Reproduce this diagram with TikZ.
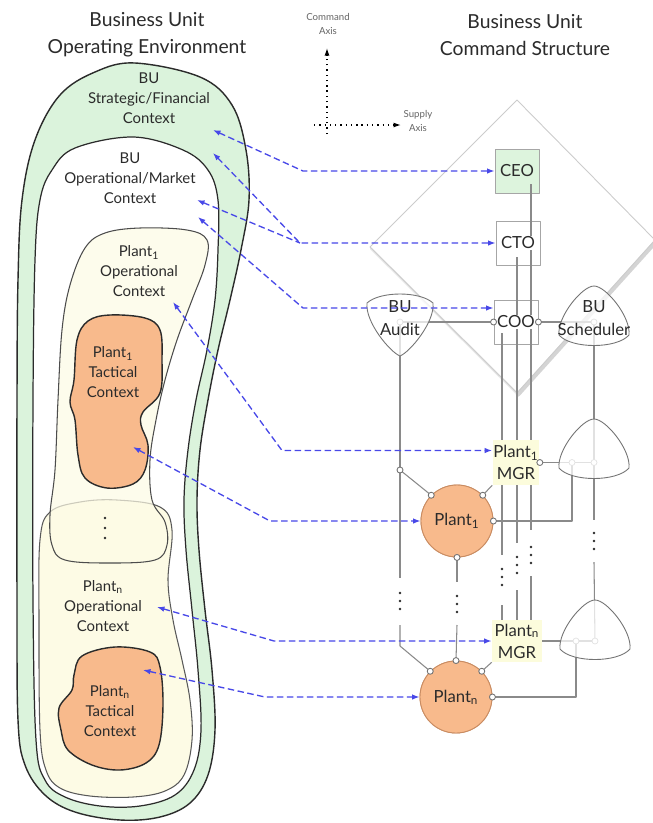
\documentclass[tikz,border=0pt]{standalone}
\usepackage{fontspec}
\setmainfont{Lato}
\usetikzlibrary{arrows.meta,calc}

\definecolor{bugreen}{HTML}{DBF3DC}
\definecolor{ceogreen}{HTML}{DDF4DD}
\definecolor{cream}{HTML}{FDFBE5}
\definecolor{mgrcream}{HTML}{FCFCDC}
\definecolor{tactical}{HTML}{F8BA8C}
\definecolor{plantrim}{HTML}{C98C62}
\definecolor{wire}{HTML}{8A8A8A}
\definecolor{linkblue}{HTML}{4848E8}
\definecolor{ink}{HTML}{2B2B2B}

\tikzset{
  lk/.tip={Latex[length=0.15cm,width=0.11cm]},
  envhead/.style={font=\fontsize{11}{15.3}\selectfont, text=ink, align=center},
  ctx/.style={font=\fontsize{8.5}{11.3}\selectfont, text=ink, align=center},
  axislabel/.style={font=\fontsize{5.5}{8.5}\selectfont, text=black!60, align=center},
  outerctx/.style={fill=bugreen, draw=ink, line width=0.8pt},
  marketctx/.style={fill=white, draw=ink, line width=0.7pt},
  plantnctx/.style={fill=cream, draw=black!65, line width=0.6pt},
  plantonectx/.style={fill=cream, fill opacity=0.7, draw=black!70, line width=0.6pt},
  tacticctx/.style={fill=tactical, draw=ink, line width=0.8pt},
  diamondline/.style={draw=black!20, line width=0.5pt},
  diamondshadow/.style={draw=black!17, line width=2.4pt, line cap=round},
  diamondhaze/.style={draw=black!9, line width=1.3pt, line cap=round},
  officebox/.style={draw=black!35, line width=0.5pt, minimum width=0.88cm, minimum height=0.88cm, inner sep=0pt},
  officetext/.style={font=\fontsize{9.5}{12}\selectfont, text=ink, inner sep=0.6pt},
  mgrbox/.style={fill=mgrcream, inner sep=0pt, align=center, font=\fontsize{9.5}{12.5}\selectfont, text=ink},
  plantnode/.style={circle, fill=tactical, draw=plantrim, line width=0.5pt, minimum size=1.44cm, inner sep=0pt, font=\fontsize{9.5}{12}\selectfont, text=ink},
  pick/.style={fill=white, fill opacity=0.75, draw=black!55, line width=0.5pt},
  picktext/.style={font=\fontsize{9.5}{13}\selectfont, text=ink, align=center},
  wireline/.style={draw=wire, line width=0.6pt},
  port/.style={circle, fill=white, draw=black!55, line width=0.5pt, minimum size=0.12cm, inner sep=0pt},
  faintport/.style={circle, fill=white, draw=black!45, line width=0.4pt, minimum size=0.12cm, inner sep=0pt},
  link/.style={draw=linkblue, line width=0.75pt, dash pattern=on 0.13cm off 0.07cm},
  axisarrow/.style={draw=black, line width=0.7pt, dash pattern=on 0.8pt off 2.2pt, -{Latex[length=0.15cm,width=0.1cm]}},
  uppick/.pic={\path[pick] (0,-33) .. controls (12,-33) and (37,-2) .. (35,16)
       .. controls (23,30) and (-23,30) .. (-35,16)
       .. controls (-37,-2) and (-12,-33) .. (0,-33) -- cycle;},
  downpick/.pic={\path[pick] (0,36) .. controls (-10,32) and (-35,2) .. (-33,-17)
       .. controls (-20,-29) and (20,-29) .. (33,-17)
       .. controls (35,2) and (10,32) .. (0,36) -- cycle;},
  dotcol/.pic={\fill[ink] (0,-8) circle (1.3) (0,0) circle (1.3) (0,8) circle (1.3);},
  widedotcol/.pic={\fill[ink] (0,-10) circle (1.4) (0,0) circle (1.4) (0,10) circle (1.4);},
}

\begin{document}
\begin{tikzpicture}[x=0.02cm, y=-0.02cm, line join=round]
\useasboundingbox (0,0) rectangle (653,823);
\fill[white] (0,0) rectangle (653,823);

% the command diamond behind the structure, with its soft shadow
\begin{scope}
  \clip (0,0) rectangle (653,823);
  \draw[diamondhaze] (371,248.5) -- (518,394.5);
  \draw[diamondshadow] (518,394.5) -- (656,241.5);
  \draw[diamondline] (517,100) -- (655,240) -- (517,393) -- (370,247) -- cycle;
\end{scope}

% headings
\node[envhead] (envtitle) at (147,35) {Business Unit\\Operating Environment};
\node[envhead] (cmdtitle) at (525,35) {Business Unit\\Command Structure};

% axes
\node[axislabel] (cmdaxis) at (328,24) {Command\\Axis};
\node[axislabel] (supaxis) at (418,121) {Supply\\Axis};
\coordinate (vstart) at (327,134);
\coordinate (cmdtip) at (327,48);
\coordinate (hstart) at (314,125);
\coordinate (suptip) at (401,125);
\draw[axisarrow] (vstart) -- (cmdtip);
\draw[axisarrow] (hstart) -- (suptip);

% nested operating contexts
\draw[outerctx] plot[smooth cycle, tension=0.6] coordinates {(135,63) (200,77) (232,105) (246,150) (249,200) (241,250) (230,300) (218,350) (208,400) (200,450) (197,500) (199,550) (205,610) (212,670) (215,730) (208,775) (190,803) (160,817) (120,820) (75,812) (45,795) (25,765) (18,720) (17,600) (17,400) (18,280) (22,200) (35,140) (60,95) (95,72)};
\draw[marketctx] plot[smooth cycle, tension=0.6] coordinates {(133,137) (183,150) (208,170) (218,200) (218,250) (215,300) (207,350) (196,400) (188,450) (184,500) (186,550) (192,610) (198,670) (201,730) (194,770) (175,795) (140,806) (100,806) (65,797) (45,780) (36,740) (33,600) (33,400) (35,260) (40,200) (52,170) (75,148)};
\draw[plantnctx] plot[smooth cycle, tension=0.6] coordinates {(117,500) (160,507) (172,530) (168,580) (173,620) (182,660) (190,700) (192,740) (184,775) (165,791) (133,797) (90,796) (60,788) (46,770) (40,730) (39,620) (40,540) (50,512) (80,502)};
\draw[plantonectx] plot[smooth cycle, tension=0.6] coordinates {(140,228) (187,230) (207,240) (205,265) (192,300) (177,340) (165,380) (156,420) (150,460) (152,500) (165,522) (167,545) (155,560) (110,563) (65,560) (52,545) (50,515) (55,470) (58,400) (62,330) (70,285) (85,248) (105,233)};
\draw[tacticctx] plot[smooth cycle, tension=0.6] coordinates {(110,315) (145,318) (160,330) (162,360) (160,393) (143,412) (141,425) (148,445) (145,470) (133,484) (107,488) (85,478) (78,455) (75,420) (70,402) (74,380) (77,340) (88,321)};
\draw[tacticctx] plot[smooth cycle, tension=0.6] coordinates {(115,647) (150,652) (160,667) (163,705) (159,745) (146,763) (120,770) (92,765) (68,750) (61,730) (59,708) (72,690) (74,675) (82,656)};
\pic at (105,528) {widedotcol};

\node[ctx] (sfctx) at (149,98) {BU\\Strategic/Financial\\Context};
\node[ctx] (omctx) at (130,178) {BU\\Operational/Market\\Context};
\node[ctx] (p1octx) at (139,271) {Plant\textsubscript{1}\\Operational\\Context};
\node[ctx] (p1tctx) at (113,372) {Plant\textsubscript{1}\\Tactical\\Context};
\node[ctx] (pnoctx) at (103,606) {Plant\textsubscript{n}\\Operational\\Context};
\node[ctx] (pntctx) at (110,711) {Plant\textsubscript{n}\\Tactical\\Context};

% command boxes
\node[officebox, fill=ceogreen] (ceo) at (517,171) {};
\node[officebox, fill=white] (cto) at (518,243) {};
\node[officebox, fill=white] (coo) at (516,322) {};

% plant managers and plants (positions for the wiring)
\path (516,462.5) node[mgrbox, minimum width=0.94cm, minimum height=0.9cm] (mgrone) {};
\path (517,641) node[mgrbox, minimum width=1.0cm, minimum height=0.84cm] (mgrn) {};
\path (457,521) node[plantnode] (plantone) {};
\path (456,697) node[plantnode] (plantn) {};

% junction points of the wiring
\coordinate (cmdA) at (531,184);
\coordinate (cmdB) at (517,257);
\coordinate (cmdC) at (502,333);
\coordinate (auditpt) at (400,322);
\coordinate (schedpt) at (594,322);
\coordinate (t1l) at (572,462.5);
\coordinate (t1r) at (594,462.5);
\coordinate (tnl) at (576,641);
\coordinate (tnr) at (595,641);
\coordinate (auditjoin) at (400,470);
\coordinate (auditbend) at (400,646);

% command lines
\draw[wireline] (cmdA) -- (cmdA |- mgrone.north);
\draw[wireline] (cmdB) -- (cmdB |- mgrone.north);
\draw[wireline] (cmdC) -- (cmdC |- mgrone.north);
\draw[wireline] (cmdA |- mgrone.south) -- (531,530);
\draw[wireline] (cmdB |- mgrone.south) -- (517,543);
\draw[wireline] (cmdC |- mgrone.south) -- (502,555);
\draw[wireline] (531,576) -- (cmdA |- mgrn.north);
\draw[wireline] (517,590) -- (cmdB |- mgrn.north);
\draw[wireline] (502,605) -- (cmdC |- mgrn.north);

% audit and scheduler lines
\draw[wireline] (auditpt) -- (coo.west);
\draw[wireline] (schedpt) -- (coo.east);
\draw[wireline] (auditpt) -- (400,578);
\draw[wireline] (auditjoin) -- (plantone.135);
\draw[wireline] (400,625) -- (auditbend) -- (plantn.135);
\draw[wireline] (schedpt) -- (t1r) -- (594,520);
\draw[wireline] (594,562) -- (tnr);
\draw[wireline] (mgrone.east) -- (t1l) -- (t1r);
\draw[wireline] (plantone.east) -- (plantone.east -| t1l) -- (t1l);
\draw[wireline] (mgrn.east) -- (tnl) -- (tnr);
\draw[wireline] (plantn.east) -- (plantn.east -| tnl) -- (tnl);
\draw[wireline] (plantone.south) -- (457,582);
\draw[wireline] (457,625) -- (plantn.north);
\draw[wireline] (plantone.45) -- (mgrone.south west);
\draw[wireline] (plantn.45) -- (mgrn.south west);

% hub points seen through the audit and scheduling shapes
\node[faintport] (auditport) at (auditpt) {};
\node[faintport] (schedport) at (schedpt) {};
\node[faintport] (t1lport) at (t1l) {};
\node[faintport] (t1rport) at (t1r) {};
\node[faintport] (tnlport) at (tnl) {};
\node[faintport] (tnrport) at (tnr) {};

\pic at (400,320) {downpick};
\pic at (594,319) {uppick};
\pic at (594,452) {uppick};
\pic at (595,633) {uppick};
\node[picktext] (audit) at (400,318) {BU\\Audit};
\node[picktext] (sched) at (594,318) {BU\\Scheduler};

% office labels over the command lines
\node[officetext] (ceolabel) at (ceo.center) {CEO};
\node[officetext, fill=white] (ctolabel) at (cto.center) {CTO};
\node[officetext, fill=white] (coolabel) at (coo.center) {COO};

% managers and plants
\node[mgrbox, minimum width=0.94cm, minimum height=0.9cm] (mgronebox) at (mgrone) {Plant\textsubscript{1}\\MGR};
\node[mgrbox, minimum width=1.0cm, minimum height=0.84cm] (mgrnbox) at (mgrn) {Plant\textsubscript{n}\\MGR};
\node[plantnode] (plantonebox) at (plantone) {Plant\textsubscript{1}};
\node[plantnode] (plantnbox) at (plantn) {Plant\textsubscript{n}};

% connection ports
\node[port] (cooL) at (coo.west) {};
\node[port] (cooR) at (coo.east) {};
\node[port] (mgroneR) at (mgrone.east) {};
\node[port] (auditjoinport) at (auditjoin) {};
\node[port] (p1ul) at (plantone.135) {};
\node[port] (p1ur) at (plantone.45) {};
\node[port] (p1r) at (plantone.east) {};
\node[port] (p1b) at (plantone.south) {};
\node[port] (pnul) at (plantn.135) {};
\node[port] (pnt) at (plantn.north) {};
\node[port] (pnur) at (plantn.45) {};
\node[port] (pnr) at (plantn.east) {};

% elided repetitions
\pic at (400,601) {dotcol};
\pic at (457,604) {dotcol};
\pic at (502,577) {dotcol};
\pic at (517,565) {dotcol};
\pic at (531,555) {dotcol};
\pic at (594,541) {dotcol};

% context links
\coordinate (sftgt) at (213,130);
\coordinate (omtgtA) at (213,153);
\coordinate (omtgtB) at (197,200);
\coordinate (omtgtC) at (198,217);
\coordinate (p1otgt) at (173,302);
\coordinate (p1ttgt) at (133,447);
\coordinate (pnotgt) at (157,607);
\coordinate (pnttgt) at (143,670);
\coordinate (bceo) at (303,171);
\coordinate (bcto) at (300,243);
\coordinate (bcoo) at (303,308);
\coordinate (bmgrone) at (282,450.5);
\coordinate (bplantone) at (270,521);
\coordinate (bmgrn) at (274,641);
\coordinate (bplantn) at (265,697);

\draw[link, {lk}-{lk}] (sftgt) -- (bceo) -- (ceo.west);
\draw[link, {lk}-{lk}] (omtgtA) -- (bcto) -- (cto.west);
\draw[link, {lk}-] (omtgtB) -- (bcto);
\draw[link, {lk}-{lk}] (omtgtC) -- (bcoo) -- ($(coo.west)+(0,-14)$);
\draw[link, {lk}-{lk}] (p1otgt) -- (bmgrone) -- ($(mgrone.west)+(0,-12)$);
\draw[link, {lk}-{lk}] (p1ttgt) -- (bplantone) -- (plantone.west);
\draw[link, {lk}-{lk}] (pnotgt) -- (bmgrn) -- (mgrn.west);
\draw[link, {lk}-{lk}] (pnttgt) -- (bplantn) -- (plantn.west);
\end{tikzpicture}
\end{document}
